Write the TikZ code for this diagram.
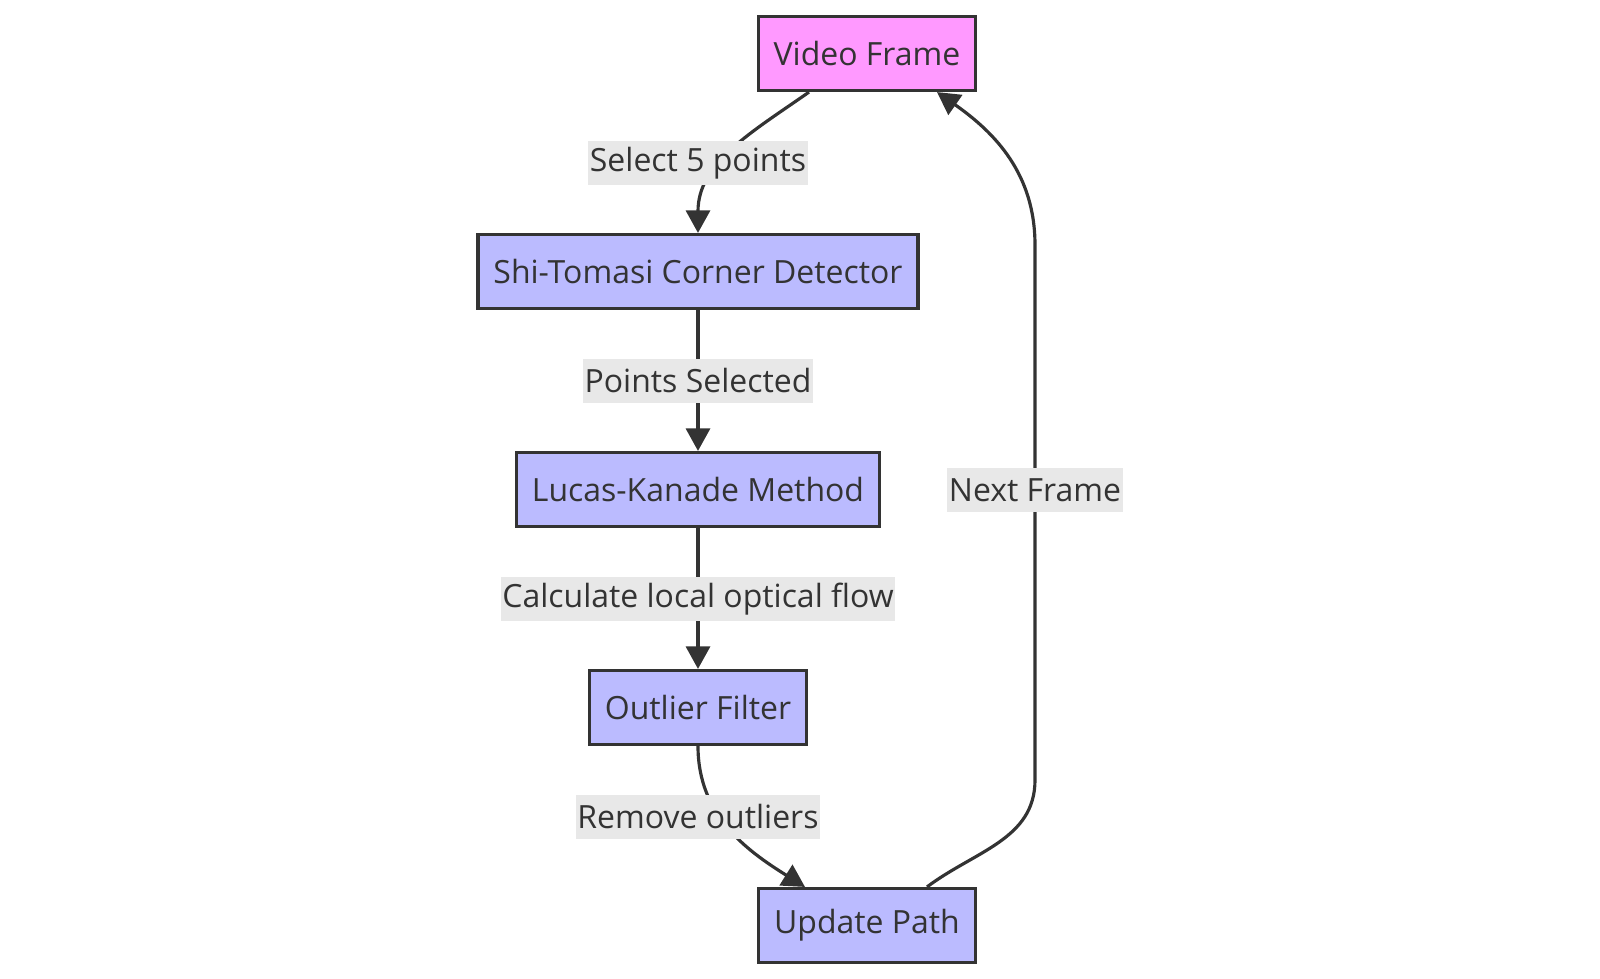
\documentclass[tikz,border=0pt]{standalone}
\usepackage{fontspec}
\setmainfont{Open Sans}
\usetikzlibrary{positioning,arrows.meta}

\definecolor{ink}{HTML}{333333}
\definecolor{pinkfill}{HTML}{FF99FF}
\definecolor{bluefill}{HTML}{BBBBFF}
\definecolor{lblgray}{HTML}{E8E8E8}

\begin{document}
\begin{tikzpicture}[
    font=\fontsize{18.2}{22}\selectfont,
    text=ink,
    box/.style={draw=ink, line width=1.8pt, minimum height=1.48cm,
                inner xsep=0.31cm, align=center},
    src/.style={box, fill=pinkfill},
    stage/.style={box, fill=bluefill},
    lbl/.style={fill=lblgray, inner xsep=1pt, inner ysep=0pt,
                minimum height=0.88cm},
    flow/.style={draw=ink, line width=1.8pt,
                 -{Triangle[length=4.5mm,width=4.8mm]}},
  ]
  \useasboundingbox (0,0) rectangle (32,-19.56);

  % --- Stages -------------------------------------------------------------
  \node[src]   (vf)  at (17.34, -1.07) {Video Frame};
  \node[stage] (shi) at (13.96, -5.43) {Shi-Tomasi Corner Detector};
  \node[stage] (lk)  at (13.96, -9.79) {Lucas-Kanade Method};
  \node[stage] (of)  at (13.96,-14.15) {Outlier Filter};
  \node[stage] (up)  at (17.34,-18.51) {Update Path};

  % --- Loop back ----------------------------------------------------------
  \coordinate (nfbot) at (20.7,-15.6);
  \coordinate (nftop) at (20.7,-4.9);

  % --- Arrows -------------------------------------------------------------
  \draw[flow] ([xshift=-1.16cm]vf.south) to[out=-145, in=90] (shi.north);
  \foreach \a/\b in {shi/lk, lk/of}
    \draw[flow] (\a) -- (\b);
  \draw[flow] (of.south) to[out=-90, in=148] ([xshift=-1.24cm]up.north);
  \draw[flow] ([xshift=1.2cm]up.north) to[out=37, in=-90] (nfbot)
    -- (nftop) to[out=90, in=-35] ([xshift=1.4cm]vf.south);

  % --- Edge labels --------------------------------------------------------
  \node[lbl] (selL)  at (13.96, -3.26) {Select 5 points};
  \node[lbl] (ptsL)  at (13.96, -7.61) {Points Selected};
  \node[lbl] (calcL) at (13.96,-11.98) {Calculate local optical flow};
  \node[lbl] (remL)  at (13.96,-16.33) {Remove outliers};
  \node[lbl] (nfL)   at (20.7,  -9.80) {Next Frame};

\end{tikzpicture}
\end{document}
